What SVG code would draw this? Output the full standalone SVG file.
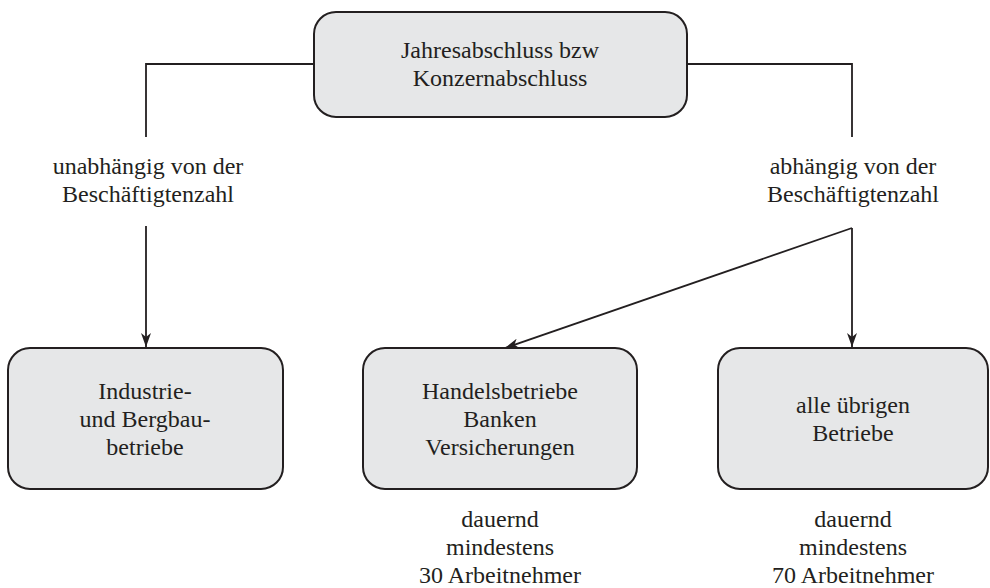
<svg xmlns="http://www.w3.org/2000/svg" width="990" height="588" viewBox="0 0 990 588">
<style>
.box{fill:#e6e7e8;stroke:#231f20;stroke-width:2}
.t{font-family:"Liberation Serif","Noto Serif","DejaVu Serif",FreeSerif,Georgia,"Times New Roman",serif;font-size:24px;fill:#231f20;text-anchor:middle}
.c{fill:none;stroke:#231f20;stroke-width:1.8}
</style>
<defs>
<marker id="ah" viewBox="0 0 14 10" refX="14" refY="5" markerWidth="14" markerHeight="10" markerUnits="userSpaceOnUse" orient="auto">
<path d="M0,0 L14,5 L0,10 L4,5 z" fill="#231f20"/>
</marker>
</defs>
<rect width="990" height="588" fill="#fff"/>
<g id="connectors">
<path class="c" d="M314,64 H146 V137"/>
<path class="c" d="M687,64 H852 V137"/>
<path class="c" d="M146,226 V347" marker-end="url(#ah)"/>
<path class="c" d="M852,228 V347" marker-end="url(#ah)"/>
<path class="c" d="M852,228 L505,348" marker-end="url(#ah)"/>
</g>
<g id="top">
<rect class="box" x="314" y="12" width="373" height="105" rx="22"/>
<text class="t" x="500" y="58">Jahresabschluss bzw</text>
<text class="t" x="500" y="86">Konzernabschluss</text>
</g>
<g id="label-left">
<text class="t" x="148" y="174">unabhängig von der</text>
<text class="t" x="148" y="202">Beschäftigtenzahl</text>
</g>
<g id="label-right">
<text class="t" x="853" y="174">abhängig von der</text>
<text class="t" x="853" y="202">Beschäftigtenzahl</text>
</g>
<g id="industrie">
<rect class="box" x="8" y="348" width="275" height="141" rx="22"/>
<text class="t" x="145" y="399">Industrie-</text>
<text class="t" x="145" y="427">und Bergbau-</text>
<text class="t" x="145" y="455">betriebe</text>
</g>
<g id="handel">
<rect class="box" x="363" y="348" width="274" height="141" rx="22"/>
<text class="t" x="500" y="399">Handelsbetriebe</text>
<text class="t" x="500" y="427">Banken</text>
<text class="t" x="500" y="455">Versicherungen</text>
</g>
<g id="uebrige">
<rect class="box" x="718" y="348" width="270" height="141" rx="22"/>
<text class="t" x="853" y="413">alle übrigen</text>
<text class="t" x="853" y="441">Betriebe</text>
</g>
<g id="note-30">
<text class="t" x="500" y="527">dauernd</text>
<text class="t" x="500" y="555">mindestens</text>
<text class="t" x="500" y="583">30 Arbeitnehmer</text>
</g>
<g id="note-70">
<text class="t" x="853" y="527">dauernd</text>
<text class="t" x="853" y="555">mindestens</text>
<text class="t" x="853" y="583">70 Arbeitnehmer</text>
</g>
</svg>
